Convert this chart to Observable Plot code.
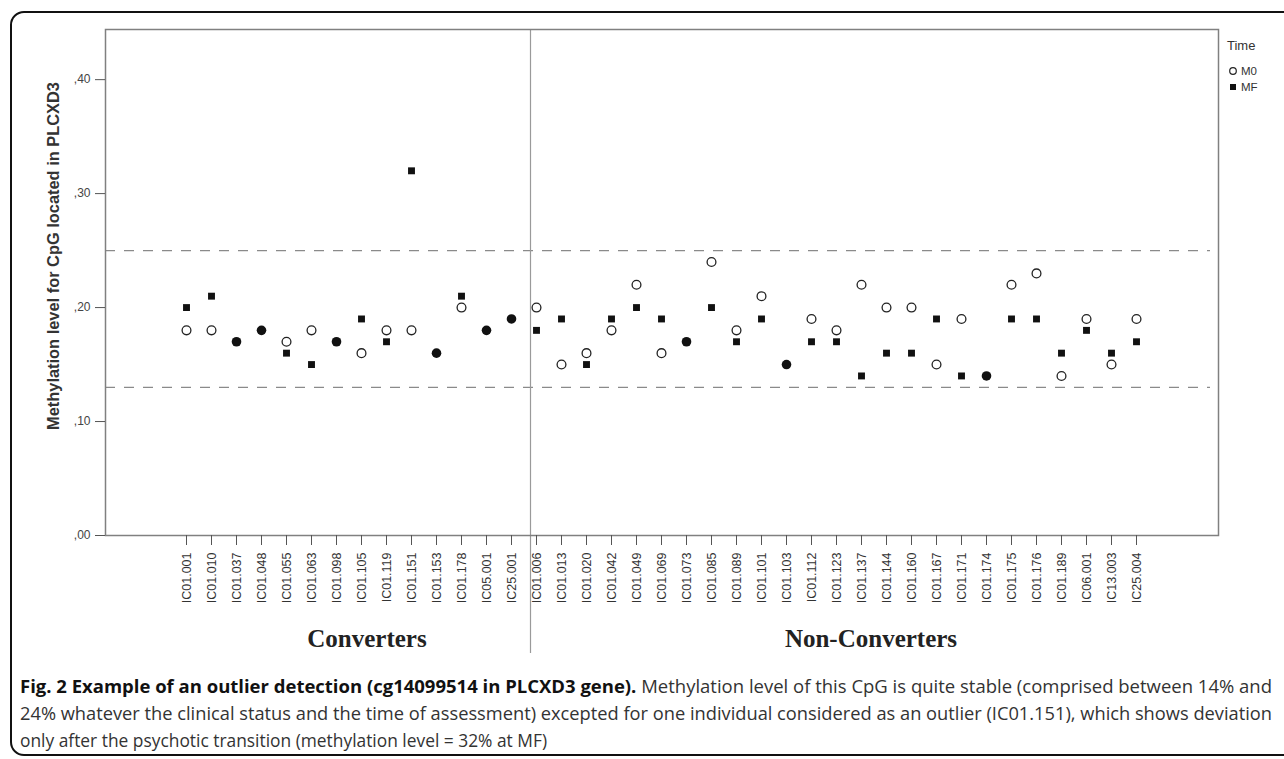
<!DOCTYPE html>
<html><head><meta charset="utf-8">
<script src="https://cdn.jsdelivr.net/npm/d3@7"></script>
<script src="https://cdn.jsdelivr.net/npm/@observablehq/plot@0.6"></script>
<style>
html,body{margin:0;padding:0;background:#fff;width:1284px;height:759px;overflow:hidden;position:relative;}
#box{position:absolute;left:10px;top:11px;width:1300px;height:745px;border:2px solid #111;border-radius:14px;box-sizing:border-box;}
#chart{position:absolute;left:0;top:0;}
.grp{position:absolute;top:626px;font-family:"Liberation Serif","Times New Roman",serif;font-weight:bold;font-size:25px;line-height:25px;color:#222;white-space:nowrap;transform:translateX(-50%);}
#ytitle{position:absolute;left:53px;top:256px;font-family:"Liberation Sans",Arial,sans-serif;font-weight:bold;font-size:16.4px;line-height:16px;color:#333;white-space:nowrap;transform:translate(-50%,-50%) rotate(-90deg);}
#legend{position:absolute;left:0;top:0;}
#cap{position:absolute;left:20px;top:673px;font-family:"Open Sans",sans-serif;font-size:18px;line-height:27px;color:#333;}
#cap .ln{display:block;white-space:nowrap;transform-origin:0 0;width:max-content;}
#cap b{color:#111;}
</style>
</head><body>
<div id="box"></div>
<div id="chart"></div>
<div id="ytitle"></div>
<div class="grp" id="g0" style="left:367px"></div>
<div class="grp" id="g1" style="left:871px"></div>
<svg id="legend" width="1284" height="120" style="font-family:'Liberation Sans',Arial,sans-serif">
  <text x="1227" y="50" font-size="13" fill="#333">Time</text>
  <circle cx="1233" cy="71" r="3.3" fill="none" stroke="#222" stroke-width="1.2"></circle>
  <text id="lg0" x="1241" y="75" font-size="11.5" fill="#333"></text>
  <rect x="1230" y="84" width="6" height="6" fill="#111"></rect>
  <text id="lg1" x="1241" y="91" font-size="11.5" fill="#333"></text>
</svg>
<div id="cap">
  <span class="ln" data-w="1252"><b>Fig. 2 Example of an outlier detection (cg14099514 in PLCXD3 gene).</b> Methylation level of this CpG is quite stable (comprised between 14% and</span>
  <span class="ln" data-w="1252">24% whatever the clinical status and the time of assessment) excepted for one individual considered as an outlier (IC01.151), which shows deviation</span>
  <span class="ln" data-w="527">only after the psychotic transition (methylation level = 32% at MF)</span>
</div>
<script>
// ---- data ----
const convertersIds = ["IC01.001","IC01.010","IC01.037","IC01.048","IC01.055","IC01.063","IC01.098","IC01.105","IC01.119","IC01.151","IC01.153","IC01.178","IC05.001","IC25.001"];
const nonConvertersIds = ["IC01.006","IC01.013","IC01.020","IC01.042","IC01.049","IC01.069","IC01.073","IC01.085","IC01.089","IC01.101","IC01.103","IC01.112","IC01.123","IC01.137","IC01.144","IC01.160","IC01.167","IC01.171","IC01.174","IC01.175","IC01.176","IC01.189","IC06.001","IC13.003","IC25.004"];
const m0Converters = [0.18,0.18,0.17,0.18,0.17,0.18,0.17,0.16,0.18,0.18,0.16,0.20,0.18,0.19];
const mfConverters = [0.20,0.21,0.17,0.18,0.16,0.15,0.17,0.19,0.17,0.32,0.16,0.21,0.18,0.19];
const m0NonConverters = [0.20,0.15,0.16,0.18,0.22,0.16,0.17,0.24,0.18,0.21,0.15,0.19,0.18,0.22,0.20,0.20,0.15,0.19,0.14,0.22,0.23,0.14,0.19,0.15,0.19];
const mfNonConverters = [0.18,0.19,0.15,0.19,0.20,0.19,0.17,0.20,0.17,0.19,0.15,0.17,0.17,0.14,0.16,0.16,0.19,0.14,0.14,0.19,0.19,0.16,0.18,0.16,0.17];
const yTicks = [0, 0.10, 0.20, 0.30, 0.40];
const thresholds = [0.13, 0.25];
const groups = ["Converters", "Non-Converters"];
const timeLevels = ["M0", "MF"];
const yTitle = "Methylation level for CpG located in PLCXD3";

// ---- build ----
const ids = convertersIds.concat(nonConvertersIds);
const m0 = m0Converters.concat(m0NonConverters);
const mf = mfConverters.concat(mfNonConverters);
const rows = ids.map((id, i) => ({id, m0: m0[i], mf: mf[i], same: Math.abs(m0[i] - mf[i]) < 1e-9}));

const chart = Plot.plot({
  width: 1284, height: 660,
  marginLeft: 105, marginRight: 66, marginTop: 29, marginBottom: 125,
  style: {fontFamily: "'Liberation Sans', Arial, sans-serif", background: "transparent", overflow: "visible"},
  x: {type: "point", domain: ids, range: [173, 1149.3], padding: 0},
  y: {domain: [0, 0.444]},
  marks: [
    Plot.ruleY(thresholds, {stroke: "#8a8a8a", strokeWidth: 1.3, strokeDasharray: "10,9", insetRight: 8}),
    Plot.ruleX([convertersIds[convertersIds.length - 1]], {stroke: "#9a9a9a", strokeWidth: 1.2, dx: 19, insetBottom: -118}),
    Plot.frame({stroke: "#808080", strokeWidth: 1.5}),
    Plot.axisY({ticks: yTicks, tickFormat: d => "," + d3.format(".2f")(d).split(".")[1], tickSize: 10, tickPadding: 5, fontSize: 12, stroke: "#555", fill: "#444", label: null}),
    Plot.axisX({tickRotate: -90, tickSize: 10, tickPadding: 7, fontSize: 12.5, stroke: "#555", fill: "#333", label: null}),
    Plot.dot(rows.filter(d => !d.same), {x: "id", y: "m0", r: 4.4, stroke: "#222", strokeWidth: 1.3, fill: "white"}),
    Plot.dot(rows.filter(d => !d.same), {x: "id", y: "mf", symbol: "square", r: 3.9, fill: "#111"}),
    Plot.dot(rows.filter(d => d.same), {x: "id", y: "m0", r: 4.8, fill: "#111"})
  ]
});
document.getElementById("chart").appendChild(chart);
document.getElementById("ytitle").textContent = yTitle;
document.getElementById("g0").textContent = groups[0];
document.getElementById("g1").textContent = groups[1];
document.getElementById("lg0").textContent = timeLevels[0];
document.getElementById("lg1").textContent = timeLevels[1];

// fit caption lines horizontally
document.querySelectorAll("#cap .ln").forEach(el => {
  const w = el.getBoundingClientRect().width;
  const target = +el.dataset.w;
  el.style.transform = `scaleX(${target / w})`;
});
</script>
</body></html>
